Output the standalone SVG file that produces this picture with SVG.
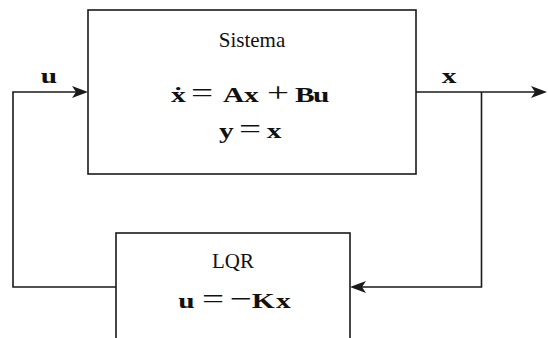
<svg xmlns="http://www.w3.org/2000/svg" width="548" height="338" viewBox="0 0 548 338">
  <style>
    .box { fill: #ffffff; stroke: #1a1a1a; stroke-width: 1.6; }
    .wire { fill: none; stroke: #1a1a1a; stroke-width: 1.6; }
    .title { font-family: "Liberation Serif", "Times New Roman", serif; font-size: 21px; fill: #111; }
    /* bold math letters, widened horizontally by the text transform */
    .math { font-family: "Liberation Serif", "Times New Roman", serif; font-size: 21px; font-weight: bold; fill: #111; }
    .op { font-size: 28px; font-weight: normal; }
  </style>
  <defs>
    <marker id="arrow" viewBox="-5 -7 18 14" markerWidth="18" markerHeight="14" refX="0" refY="0" orient="auto" markerUnits="userSpaceOnUse">
      <path d="M12,0 L-4,-6 L0,0 L-4,6 Z" fill="#1a1a1a"/>
    </marker>
  </defs>

  <!-- signal connectors -->
  <g id="connectors">
    <path class="wire" d="M116 287 H13 V92 H76" marker-end="url(#arrow)"/>
    <path class="wire" d="M416 92 H535" marker-end="url(#arrow)"/>
    <path class="wire" d="M481.5 92 V287 H362" marker-end="url(#arrow)"/>
    <text class="math" transform="matrix(1.4 0 0 1 0 0)" x="29.1" y="83.3">u</text>
    <text class="math" transform="matrix(1.4 0 0 1 0 0)" x="315.5" y="82.7">x</text>
  </g>

  <!-- plant block -->
  <g id="sistema">
    <rect class="box" x="88" y="10" width="328" height="164"/>
    <text class="title" x="252" y="46.7" text-anchor="middle">Sistema</text>
    <text class="math" transform="matrix(1.4 0 0 1 0 0)" y="101.7"><tspan x="122.1">ẋ</tspan><tspan class="op" x="136.4">=</tspan><tspan x="159.3">A</tspan><tspan x="174.3">x</tspan><tspan class="op" x="190.7">+</tspan><tspan x="210.7">B</tspan><tspan x="223.6">u</tspan></text>
    <text class="math" transform="matrix(1.4 0 0 1 0 0)" y="138"><tspan x="156.4">y</tspan><tspan class="op" x="170.7">=</tspan><tspan x="190.5">x</tspan></text>
  </g>

  <!-- controller block -->
  <g id="lqr">
    <rect class="box" x="116" y="233" width="234" height="120"/>
    <text class="title" x="233" y="268.3" text-anchor="middle">LQR</text>
    <text class="math" transform="matrix(1.4 0 0 1 0 0)" y="308.3"><tspan x="127.4">u</tspan><tspan class="op" x="144.3">=</tspan><tspan class="op" x="164.3">−</tspan><tspan x="179.8">K</tspan><tspan x="197.1">x</tspan></text>
  </g>
</svg>
